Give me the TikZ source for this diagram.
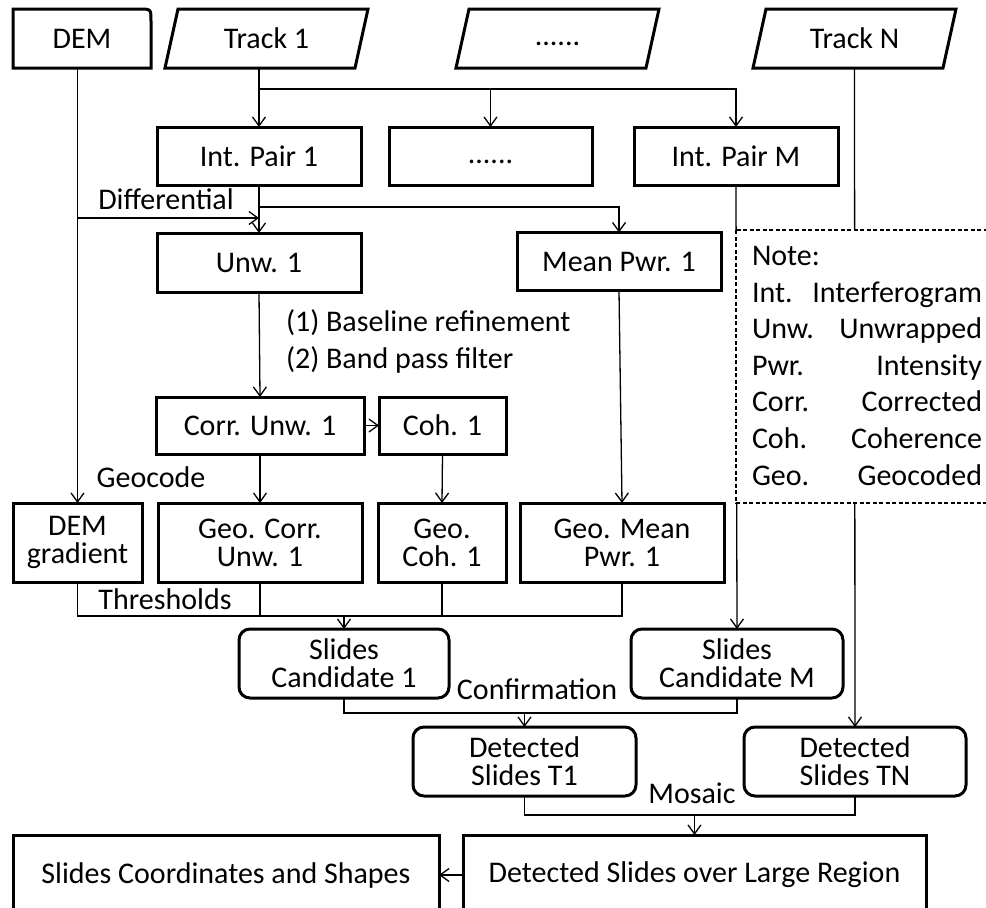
\documentclass[tikz,border=0pt]{standalone}
\usepackage{fontspec}
\setmainfont{Carlito}
\usetikzlibrary{arrows.meta,calc}
\begin{document}
\begin{tikzpicture}[x=1pt,y=-1pt,
  every node/.style={font=\fontsize{30}{28}\selectfont, inner sep=0pt, outer sep=0pt, align=center},
  boxline/.style={line width=3pt, line join=miter},
  box/.style={draw, boxline},
  rbox/.style={draw, boxline, rounded corners=11pt},
  conn/.style={line width=1.3pt},
  arr/.style={conn, -{Straight Barb[length=9pt,width=13pt,line width=1.3pt]}},
  notebox/.style={draw, line width=1.3pt, dash pattern=on 4pt off 2.5pt}
]
\useasboundingbox (0,0) rectangle (986,908);

% ---- top row
\node[minimum width=138pt, minimum height=59pt] (DEM) at (82,38.5) {DEM};
\draw[boxline] (DEM.south west) -- (DEM.north west) -- ($(DEM.north east)+(-12,0)$)
  .. controls (DEM.north east) .. ($(DEM.north east)+(0,12)$) -- (DEM.south east) -- cycle;

\node[minimum width=203pt, minimum height=59pt] (T1) at (266.5,38.5) {Track 1};
\node[minimum width=203pt, minimum height=59pt] (TD) at (557.5,38.5) {\vphantom{Tg}......};
\node[minimum width=203pt, minimum height=59pt] (TN) at (854.5,38.5) {Track N};
\foreach \n in {T1,TD,TN}{
  \draw[boxline] (\n.south west) -- ($(\n.north west)+(13,0)$) -- (\n.north east)
    -- ($(\n.south east)+(-13,0)$) -- cycle;
}

% ---- interferogram pairs
\node[box, minimum width=204pt, minimum height=58pt] (IP1) at (259,156) {Int. Pair 1};
\node[box, minimum width=203pt, minimum height=58pt] (IPD) at (490.5,156) {\vphantom{Tg}......};
\node[box, minimum width=204pt, minimum height=58pt] (IPM) at (736,156) {Int. Pair M};

% ---- unwrapped / mean power
\node[box, minimum width=204pt, minimum height=59pt] (U1) at (259,262.5) {Unw. 1};
\node[box, minimum width=204pt, minimum height=58pt] (MP) at (619,261.5) {Mean Pwr. 1};

% ---- corrected / coherence
\node[box, minimum width=208pt, minimum height=57pt] (CU) at (260,425.5) {Corr. Unw. 1};
\node[box, minimum width=127pt, minimum height=57pt] (CO) at (442.5,425.5) {Coh. 1};

% ---- geocoded row
\node[box, minimum width=129pt, minimum height=79pt] (DG) at (77.5,542.5) {DEM\\gradient};
\node[box, minimum width=204pt, minimum height=79pt] (GCU) at (260,542.5) {Geo. Corr.\\Unw. 1};
\node[box, minimum width=128pt, minimum height=79pt] (GC) at (442,542.5) {Geo.\\Coh. 1};
\node[box, minimum width=204pt, minimum height=79pt] (GMP) at (622,542.5) {Geo. Mean\\Pwr. 1};

% ---- candidates
\node[rbox, minimum width=210pt, minimum height=69pt] (SC1) at (344,663.5) {Slides\\Candidate 1};
\node[rbox, minimum width=212pt, minimum height=69pt] (SCM) at (737,663.5) {Slides\\Candidate M};

% ---- detected
\node[rbox, minimum width=223pt, minimum height=69pt] (DT1) at (524.5,761.5) {Detected\\Slides T1};
\node[rbox, minimum width=222pt, minimum height=69pt] (DTN) at (855,761.5) {Detected\\Slides TN};

% ---- bottom row
\node[box, minimum width=463pt, minimum height=80pt] (DL) at (694.5,875) {Detected Slides over Large Region};
\node[box, minimum width=426pt, minimum height=80pt] (SCS) at (226,875) {Slides Coordinates and Shapes};

% ---- connector junctions
\coordinate (br1) at (259,89);
\coordinate (br2) at (259,207);
\coordinate (dif) at (77.5,218);
\coordinate (th) at (0,616);
\coordinate (cf) at (0,713);
\coordinate (mo) at (0,815);

% ---- connectors
\draw[arr] (T1.south -| IP1) -- (IP1.north);
\draw[arr] (br1) -| (IPM.north);
\draw[arr] (br1 -| IPD) -- (IPD.north);

\draw[arr] (IP1.south) -- (U1.north);
\draw[arr] (br2) -| (MP.north);
\draw[conn] (DEM.south -| DG) -- (dif);
\draw[arr] (dif) -- (dif -| IP1);
\draw[arr] (dif) -- (DG.north);

\draw[arr] (U1.south) -- (CU.north);
\draw[arr] (CU.east) -- (CO.west);
\draw[arr] (CU.south) -- (GCU.north);
\draw[arr] (CO.south) -- (GC.north);
\draw[arr] (MP.south) -- (GMP.north);

\draw[conn] (DG.south) -- (DG |- th) -- (GMP |- th) -- (GMP.south);
\draw[conn] (GCU.south) -- (GCU |- th);
\draw[conn] (GC.south) -- (GC |- th);
\draw[arr] (SC1 |- th) -- (SC1.north);

\draw[arr] (IPM.south) -- (SCM.north);
\draw[arr] (TN.south) -- (DTN.north);

\draw[conn] (SC1.south) -- (SC1 |- cf) -- (SCM |- cf) -- (SCM.south);
\draw[arr] (DT1 |- cf) -- (DT1.north);

\draw[conn] (DT1.south) -- (DT1 |- mo) -- (DTN |- mo) -- (DTN.south);
\draw[arr] (DL |- mo) -- (DL.north);
\draw[arr] (DL.west) -- (SCS.east);

% ---- labels
\node[anchor=base] (lDif) at (166,209) {Differential};
\node[anchor=base west] (lB1) at (286,331) {(1) Baseline refinement};
\node[anchor=base west] (lB2) at (286,368) {(2) Band pass filter};
\node[anchor=base] (lGeo) at (151,487) {Geocode};
\node[anchor=base] (lTh) at (165,609) {Thresholds};
\node[anchor=base] (lCf) at (537,699) {Confirmation};
\node[anchor=base] (lMo) at (692,803) {Mosaic};

% ---- note box
\fill[white] (734.6,230) rectangle (995,503);
\draw[notebox] (736,230) rectangle (995,503);
\node[anchor=base west] (nT) at (752,265) {Note:};
\foreach \y/\a/\b [count=\i] in {302/Int./Interferogram, 338.6/Unw./Unwrapped, 375.2/Pwr./Intensity,
    411.8/Corr./Corrected, 448.4/Coh./Coherence, 485/Geo./Geocoded}{
  \node[anchor=base west] (na\i) at (752,\y) {\a};
  \node[anchor=base east] (nb\i) at (982,\y) {\b};
}
\end{tikzpicture}
\end{document}
